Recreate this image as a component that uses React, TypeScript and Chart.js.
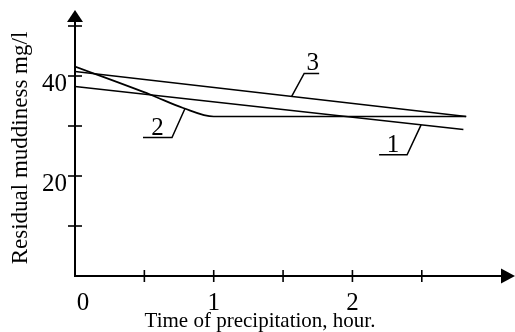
import React, { useEffect, useRef } from 'react';
import { Chart, registerables } from 'chart.js';

Chart.register(...registerables);

// ---- data ----
const line1X = [0, 2.8];
const line1Y = [37.9, 29.3];
const line2X = [0, 0.55, 0.78, 1.0, 2.82];
const line2Y = [41.9, 36.2, 33.6, 31.9, 31.9];
const line3X = [0, 2.82];
const line3Y = [40.9, 31.9];

const xTickValues = [0, 0.5, 1, 1.5, 2, 2.5];
const xTickLabels = ['0', '', '1', '', '2', ''];
const yTickValues = [10, 20, 30, 40, 50];
const yTickLabels = ['', '20', '', '40', ''];

const curveNames = ['1', '2', '3'];
const curveLabelAt = [2.495, 0.793, 1.562];

const xTitle = 'Time of precipitation, hour.';
const yTitle = 'Residual muddiness mg/l';

const X_MIN = 0;
const X_MAX = 3.172;
const Y_MIN = 0;
const Y_MAX = 53.2;

const FONT = '"Liberation Serif", "Times New Roman", serif';

const toPoints = (xs: number[], ys: number[]) => xs.map((x, i) => ({ x, y: ys[i] }));

function valueOnLine(xs: number[], ys: number[], x: number) {
  for (let i = 0; i < xs.length - 1; i++) {
    if (x >= xs[i] && x <= xs[i + 1]) {
      const t = (x - xs[i]) / (xs[i + 1] - xs[i]);
      return ys[i] + t * (ys[i + 1] - ys[i]);
    }
  }
  return ys[ys.length - 1];
}

const axesPlugin = {
  id: 'customAxes',
  afterDraw(chart: any) {
    const ctx = chart.ctx as CanvasRenderingContext2D;
    const xs = chart.scales.x;
    const ys = chart.scales.y;
    const area = chart.chartArea;
    const x0 = xs.getPixelForValue(0);
    const y0 = ys.getPixelForValue(0);
    ctx.save();
    ctx.strokeStyle = '#000';
    ctx.fillStyle = '#000';
    ctx.lineWidth = 2;
    ctx.lineCap = 'butt';
    // y axis
    ctx.beginPath();
    ctx.moveTo(x0, y0 + 1);
    ctx.lineTo(x0, area.top + 8);
    ctx.stroke();
    // x axis
    ctx.beginPath();
    ctx.moveTo(x0 - 1, y0);
    ctx.lineTo(area.right - 10, y0);
    ctx.stroke();
    // arrows
    ctx.beginPath();
    ctx.moveTo(x0, area.top);
    ctx.lineTo(x0 - 8, area.top + 12);
    ctx.lineTo(x0 + 8, area.top + 12);
    ctx.closePath();
    ctx.fill();
    ctx.beginPath();
    ctx.moveTo(area.right, y0);
    ctx.lineTo(area.right - 14, y0 - 7.5);
    ctx.lineTo(area.right - 14, y0 + 7.5);
    ctx.closePath();
    ctx.fill();

    // ticks
    ctx.lineWidth = 1.6;
    xTickValues.forEach((v) => {
      if (v === 0) return;
      const px = xs.getPixelForValue(v);
      ctx.beginPath();
      ctx.moveTo(px, y0 - 6);
      ctx.lineTo(px, y0 + 6);
      ctx.stroke();
    });
    yTickValues.forEach((v) => {
      const py = ys.getPixelForValue(v);
      ctx.beginPath();
      ctx.moveTo(x0 - 7, py);
      ctx.lineTo(x0 + 7, py);
      ctx.stroke();
    });

    // tick labels
    ctx.font = `25px ${FONT}`;
    ctx.textAlign = 'center';
    ctx.textBaseline = 'alphabetic';
    xTickValues.forEach((v, i) => {
      const lab = xTickLabels[i];
      if (!lab) return;
      const px = xs.getPixelForValue(v) + (v === 0 ? 8 : 0);
      ctx.fillText(lab, px, y0 + 34);
    });
    ctx.textAlign = 'right';
    yTickValues.forEach((v, i) => {
      const lab = yTickLabels[i];
      if (!lab) return;
      const py = ys.getPixelForValue(v);
      ctx.fillText(lab, x0 - 8, py + 15);
    });

    // titles
    ctx.font = `21px ${FONT}`;
    ctx.textAlign = 'center';
    ctx.fillText(xTitle, 260, 327);
    ctx.save();
    ctx.font = `23px ${FONT}`;
    ctx.translate(27, 148);
    ctx.rotate(-Math.PI / 2);
    ctx.fillText(yTitle, 0, 0);
    ctx.restore();

    // curve labels with leaders
    const lines = [
      [line1X, line1Y],
      [line2X, line2Y],
      [line3X, line3Y],
    ];
    const leader = [
      { dx: -14, dy: 30, ux: -28 },
      { dx: -13, dy: 29, ux: -29 },
      { dx: 12.5, dy: -23, ux: 15 },
    ];
    ctx.lineWidth = 1.5;
    ctx.font = `25px ${FONT}`;
    curveNames.forEach((name, i) => {
      const [lx, ly] = lines[i];
      const ax = curveLabelAt[i];
      const px = xs.getPixelForValue(ax);
      const py = ys.getPixelForValue(valueOnLine(lx, ly, ax));
      const L = leader[i];
      const ex = px + L.dx;
      const ey = py + L.dy;
      ctx.beginPath();
      ctx.moveTo(px, py);
      ctx.lineTo(ex, ey);
      ctx.lineTo(ex + L.ux, ey);
      ctx.stroke();
      ctx.textAlign = 'center';
      ctx.fillText(name, ex + L.ux / 2 + (L.ux < 0 ? 0 : 1), ey - 3);
    });
    ctx.restore();
  },
};

export default function App() {
  const ref = useRef<HTMLCanvasElement | null>(null);
  useEffect(() => {
    if (!ref.current) return;
    const mk = (xs: number[], ys: number[], monotone: boolean) => ({
      data: toPoints(xs, ys),
      borderColor: '#000',
      borderWidth: 1.7,
      pointRadius: 0,
      fill: false,
      tension: 0,
      cubicInterpolationMode: monotone ? ('monotone' as const) : ('default' as const),
    });
    const chart = new Chart(ref.current, {
      type: 'line',
      data: {
        datasets: [mk(line1X, line1Y, false), mk(line2X, line2Y, true), mk(line3X, line3Y, false)],
      },
      options: {
        animation: false,
        responsive: false,
        layout: { padding: { left: 75, right: 0, top: 10, bottom: 56 } },
        scales: {
          x: { type: 'linear', min: X_MIN, max: X_MAX, display: false },
          y: { type: 'linear', min: Y_MIN, max: Y_MAX, display: false },
        },
        plugins: { legend: { display: false }, tooltip: { enabled: false } },
      },
      plugins: [axesPlugin],
    });
    return () => chart.destroy();
  }, []);
  return (
    <div style={{ position: 'fixed', left: 0, top: 0, width: 515, height: 332, background: '#fff' }}>
      <canvas ref={ref} width={515} height={332} style={{ display: 'block' }} />
    </div>
  );
}
